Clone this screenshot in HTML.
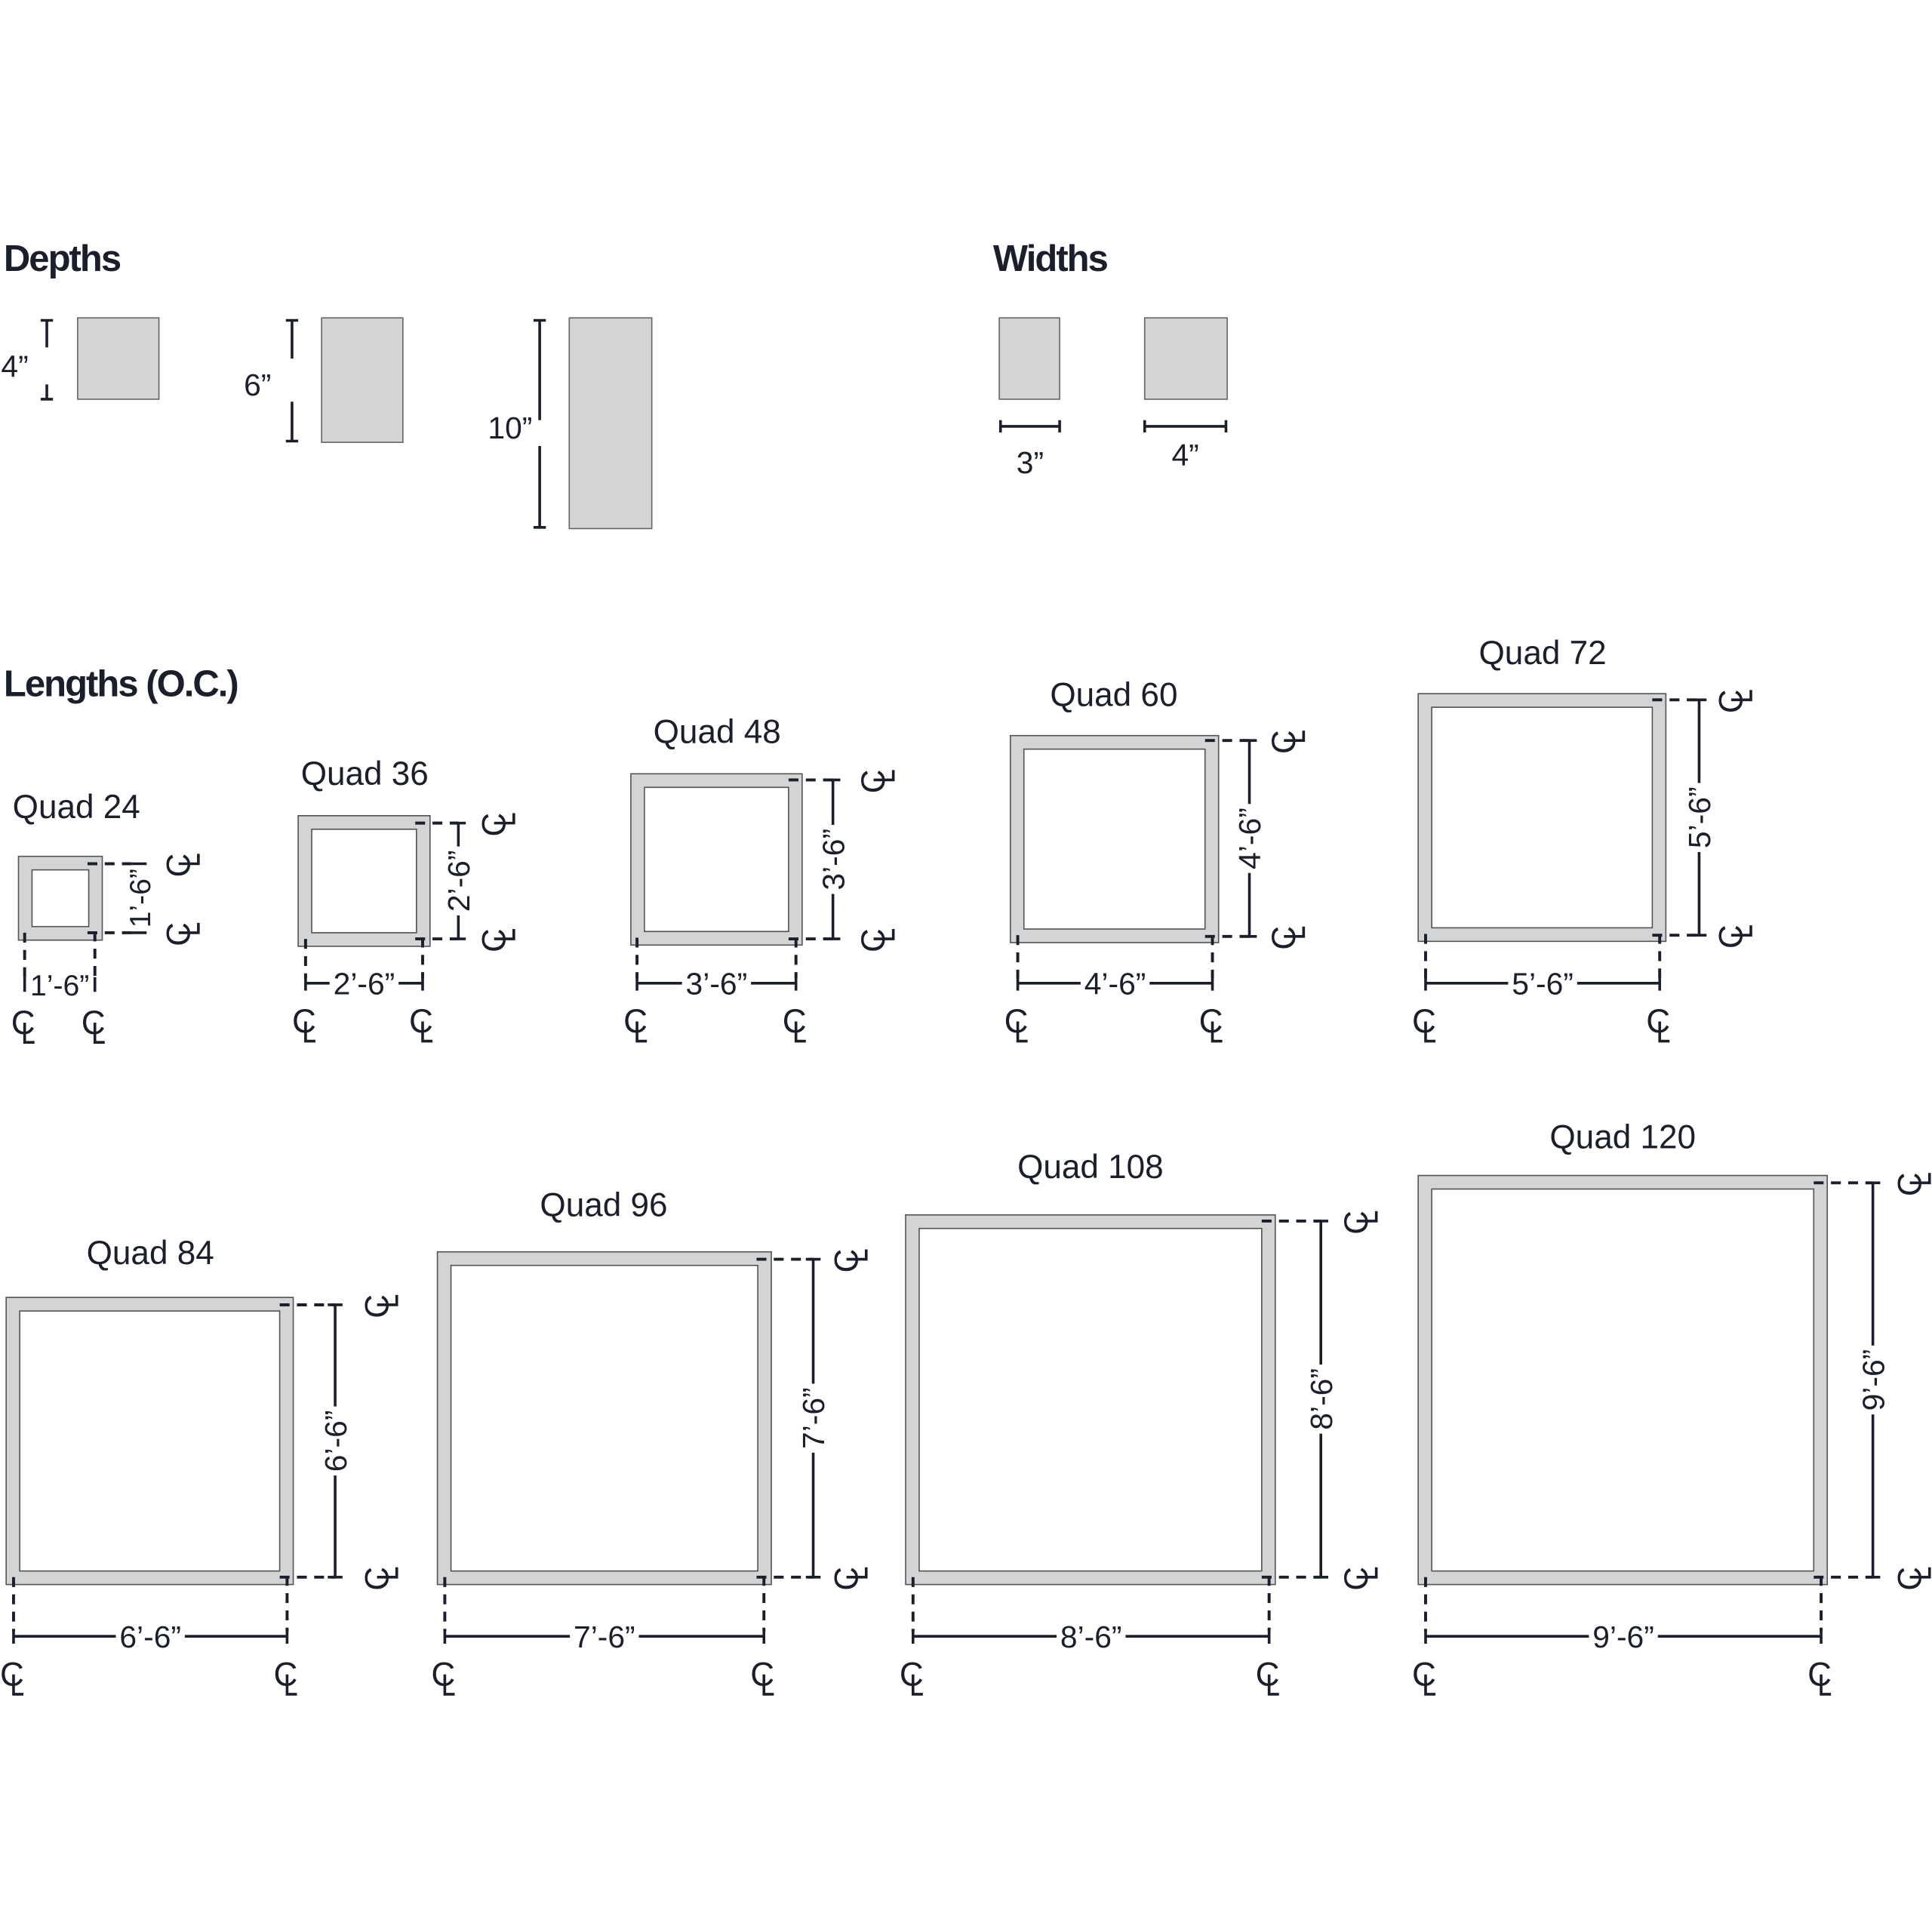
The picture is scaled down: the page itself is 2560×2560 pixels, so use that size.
<!DOCTYPE html>
<html><head><meta charset="utf-8">
<style>
html,body{margin:0;padding:0;background:#fff;}
svg{display:block;}
text{font-family:"Liberation Sans",sans-serif;fill:#1a1f2b;}
</style></head>
<body>
<svg id="s" width="2560" height="2560" viewBox="0 0 1568 1568" xmlns="http://www.w3.org/2000/svg">
<rect width="1568" height="1568" fill="#fff"/>
<g font-weight="bold" font-size="30" letter-spacing="-1.2">
<text x="3" y="220">Depths</text>
<text x="806" y="220">Widths</text>
<text x="3" y="565">Lengths (O.C.)</text>
</g>
<g fill="#d3d4d6" stroke="#666" stroke-width="1">
<rect x="63" y="258" width="66" height="66"/>
<rect x="261" y="258" width="66" height="101"/>
<rect x="462" y="258" width="67" height="171"/>
<rect x="811" y="258" width="49" height="66"/>
<rect x="929" y="258" width="67" height="66"/>
</g>
<g stroke="#1a1f2b" stroke-width="2.2" fill="none">
<path d="M38 260V282M38 312V324M33 260H43M33 324H43"/>
<path d="M237 260V291M237 326V358M232 260H242M232 358H242"/>
<path d="M438 260V341M438 362V428M433 260H443M433 428H443"/>
<path d="M812 346H860M812 341V351M860 341V351"/>
<path d="M929 346H995M929 341V351M995 341V351"/>
</g>
<g font-size="25">
<text x="12" y="306" text-anchor="middle">4”</text>
<text x="209" y="321" text-anchor="middle">6”</text>
<text x="414" y="356" text-anchor="middle">10”</text>
<text x="836" y="384" text-anchor="middle">3”</text>
<text x="962" y="378" text-anchor="middle">4”</text>
</g>
<g id="q"></g>
</svg>
<script>
var Q=[
["Quad 24",15,695,83,763,20,77,701,757,799,113,148,62,664,"1’-6”",24],
["Quad 36",242,662,349,768,248,343,668,762,798,372,404,296,637,"2’-6”",25],
["Quad 48",512,628,651,767,517,646,633,762,798,676,712,582,603,"3’-6”",25],
["Quad 60",820,597,989,765,826,984,601,760,798,1014,1045,904,573,"4’-6”",25],
["Quad 72",1151,563,1352,764,1157,1347,568,759,798,1379,1408,1252,539,"5’-6”",25],
["Quad 84",5,1053,238,1286,11,233,1059,1280,1328,272,309,122,1026,"6’-6”",25],
["Quad 96",355,1016,626,1286,361,620,1022,1280,1328,660,690,490,987,"7’-6”",25],
["Quad 108",735,986,1035,1286,741,1030,991,1280,1328,1072,1104,885,956,"8’-6”",25],
["Quad 120",1151,954,1483,1286,1157,1478,960,1280,1328,1520,1553,1317,932,"9’-6”",25]];
var h="",C="#1a1f2b",t=11;
function cl(x,y,rot){
 return '<g transform="translate('+x+','+y+')'+(rot?' rotate(-90)':'')+'"><text x="-11" y="6" font-size="27">C</text><path d="M0 -3V13H8" stroke="'+C+'" stroke-width="2.2" fill="none"/></g>';
}
Q.forEach(function(q){
 var [n,x1,y1,x2,y2,cx1,cx2,cy1,cy2,dy,vx,gx,tx,ty,lab,fs]=q;
 h+='<rect x="'+x1+'" y="'+y1+'" width="'+(x2-x1)+'" height="'+(y2-y1)+'" fill="#d3d4d6" stroke="#555" stroke-width="1"/>';
 h+='<rect x="'+(x1+t)+'" y="'+(y1+t)+'" width="'+(x2-x1-2*t)+'" height="'+(y2-y1-2*t)+'" fill="#fff" stroke="#555" stroke-width="1"/>';
 h+='<text x="'+tx+'" y="'+ty+'" font-size="27" text-anchor="middle">'+n+'</text>';
 var d='stroke="'+C+'" stroke-width="2.4" stroke-dasharray="8,6" fill="none"';
 h+='<path d="M'+cx1+' '+(y2-6)+'V'+(dy-4)+'M'+cx2+' '+(cy2-1)+'V'+(dy-4)+'" '+d+'/>';
 h+='<path d="M'+(cx2-6)+' '+cy1+'H'+vx+'M'+(cx2-6)+' '+cy2+'H'+vx+'" '+d+'/>';
 var s='stroke="'+C+'" stroke-width="2.2" fill="none"';
 var mx=(cx1+cx2)/2, hw=lab.length*5.4+1, my=(cy1+cy2)/2;
 h+='<path d="M'+cx1+' '+dy+'H'+Math.max(cx1,mx-hw)+'M'+Math.min(cx2,mx+hw)+' '+dy+'H'+cx2+'M'+cx1+' '+(dy-6)+'V'+(dy+6)+'M'+cx2+' '+(dy-6)+'V'+(dy+6)+'" '+s+'/>';
 h+='<path d="M'+vx+' '+cy1+'V'+Math.max(cy1,my-hw)+'M'+vx+' '+Math.min(cy2,my+hw)+'V'+cy2+'M'+(vx-6)+' '+cy1+'H'+(vx+6)+'M'+(vx-6)+' '+cy2+'H'+(vx+6)+'" '+s+'/>';
 h+='<text x="'+mx+'" y="'+(dy+9)+'" font-size="'+fs+'" text-anchor="middle">'+lab+'</text>';
 h+='<text transform="translate('+(vx+9)+','+my+') rotate(-90)" font-size="'+fs+'" text-anchor="middle">'+lab+'</text>';
 var gy=dy+34;
 h+=cl(cx1,gy,0)+cl(cx2,gy,0);
 h+=cl(gx,cy1,1)+cl(gx,cy2,1);
});
document.getElementById("q").innerHTML=h;
</script>
</body></html>
